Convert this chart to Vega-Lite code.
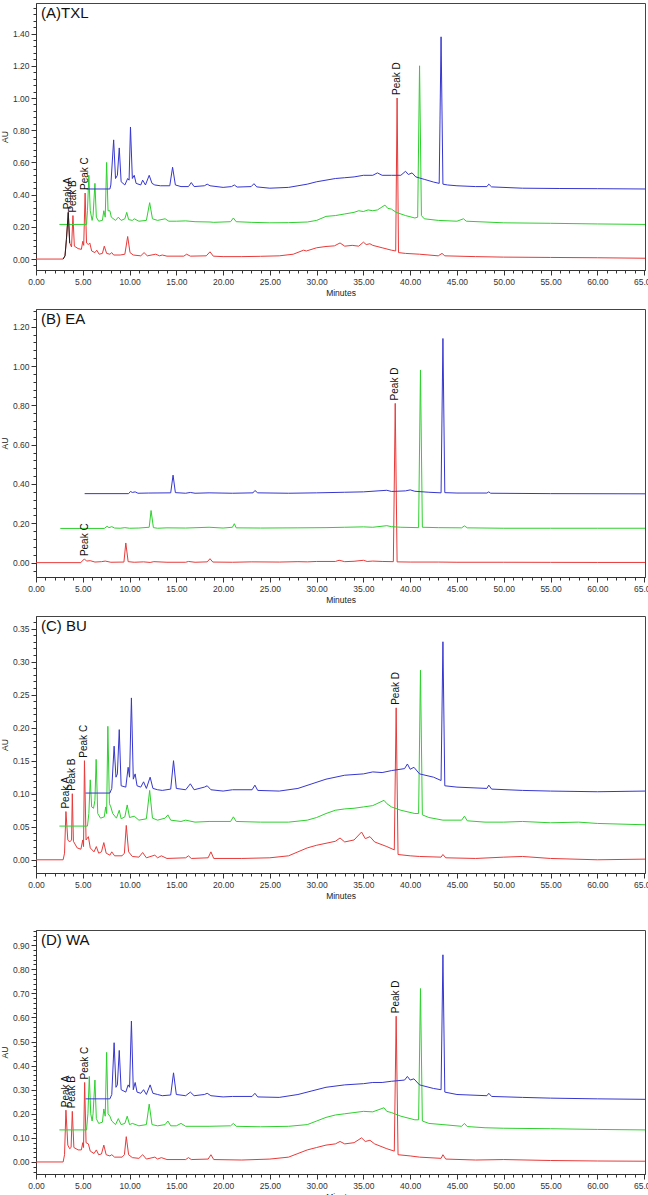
{
"$schema":"https://vega.github.io/schema/vega-lite/v6.json",
"background":"white",
"padding":{"left":0,"top":2,"right":0,"bottom":0},
"config":{"font":"Liberation Sans","view":{"stroke":"#444","strokeWidth":1},
"axis":{"labelFont":"Liberation Sans","labelFontSize":8.5,"labelColor":"#333","titleFont":"Liberation Sans","titleFontSize":8.5,"titleFontWeight":"normal","titleColor":"#222","domainColor":"#333","tickColor":"#333","grid":false,"labelOverlap":false,"labelFlush":false,"labelBound":false,"labelPadding":2},
"text":{"font":"Liberation Sans"}},
"datasets":{
"titles":[{"p":"A","t":0,"v":1.59,"label":"(A)TXL"},{"p":"B","t":0,"v":1.29,"label":"(B) EA"},{"p":"C","t":0,"v":0.369,"label":"(C) BU"},{"p":"D","t":0,"v":0.963,"label":"(D) WA"}],
"A":[
{"s":"r","t":0,"v":0},{"s":"r","t":2.9,"v":0},{"s":"r","t":3.1,"v":0.02},{"s":"r","t":3.25,"v":0.12},{"s":"r","t":3.45,"v":0.29},{"s":"r","t":3.6,"v":0.1},{"s":"r","t":3.8,"v":0.075},{"s":"r","t":3.95,"v":0.27},{"s":"r","t":4.1,"v":0.08},{"s":"r","t":4.5,"v":0.065},{"s":"r","t":4.85,"v":0.06},{"s":"r","t":5.0,"v":0.11},{"s":"r","t":5.1,"v":0.085},{"s":"r","t":5.25,"v":0.41},{"s":"r","t":5.4,"v":0.1},{"s":"r","t":5.6,"v":0.09},{"s":"r","t":5.75,"v":0.1},{"s":"r","t":5.95,"v":0.05},{"s":"r","t":6.3,"v":0.04},{"s":"r","t":6.5,"v":0.055},{"s":"r","t":6.75,"v":0.03},{"s":"r","t":7.1,"v":0.035},{"s":"r","t":7.3,"v":0.08},{"s":"r","t":7.55,"v":0.035},{"s":"r","t":7.9,"v":0.03},{"s":"r","t":8.1,"v":0.04},{"s":"r","t":8.3,"v":0.025},{"s":"r","t":9.0,"v":0.025},{"s":"r","t":9.5,"v":0.03},{"s":"r","t":9.8,"v":0.14},{"s":"r","t":10.05,"v":0.04},{"s":"r","t":10.4,"v":0.025},{"s":"r","t":11.2,"v":0.02},{"s":"r","t":11.55,"v":0.04},{"s":"r","t":11.9,"v":0.02},{"s":"r","t":12.8,"v":0.03},{"s":"r","t":13.2,"v":0.02},{"s":"r","t":13.5,"v":0.025},{"s":"r","t":14,"v":0.018},{"s":"r","t":15.8,"v":0.018},{"s":"r","t":16.1,"v":0.03},{"s":"r","t":16.5,"v":0.018},{"s":"r","t":18.2,"v":0.02},{"s":"r","t":18.6,"v":0.045},{"s":"r","t":18.95,"v":0.018},{"s":"r","t":20,"v":0.015},{"s":"r","t":22,"v":0.015},{"s":"r","t":24,"v":0.017},{"s":"r","t":26,"v":0.02},{"s":"r","t":27.5,"v":0.03},{"s":"r","t":28.6,"v":0.055},{"s":"r","t":28.9,"v":0.05},{"s":"r","t":30,"v":0.07},{"s":"r","t":31,"v":0.078},{"s":"r","t":31.9,"v":0.082},{"s":"r","t":32.5,"v":0.1},{"s":"r","t":33,"v":0.08},{"s":"r","t":33.8,"v":0.085},{"s":"r","t":34.5,"v":0.08},{"s":"r","t":35,"v":0.105},{"s":"r","t":35.3,"v":0.09},{"s":"r","t":35.7,"v":0.095},{"s":"r","t":36,"v":0.085},{"s":"r","t":37,"v":0.07},{"s":"r","t":38,"v":0.055},{"s":"r","t":38.45,"v":0.05},{"s":"r","t":38.6,"v":1.0},{"s":"r","t":38.75,"v":0.04},{"s":"r","t":39.5,"v":0.035},{"s":"r","t":41,"v":0.03},{"s":"r","t":43,"v":0.02},{"s":"r","t":43.4,"v":0.035},{"s":"r","t":43.7,"v":0.02},{"s":"r","t":47,"v":0.015},{"s":"r","t":50,"v":0.012},{"s":"r","t":55,"v":0.01},{"s":"r","t":60,"v":0.008},{"s":"r","t":65.1,"v":0.005},
{"s":"k","t":2.9,"v":0},{"s":"k","t":3.1,"v":0.02},{"s":"k","t":3.25,"v":0.12},{"s":"k","t":3.45,"v":0.29},{"s":"k","t":3.6,"v":0.1},
{"s":"g","t":2.5,"v":0.215},{"s":"g","t":5.4,"v":0.215},{"s":"g","t":5.5,"v":0.3},{"s":"g","t":5.65,"v":0.52},{"s":"g","t":5.8,"v":0.3},{"s":"g","t":6.0,"v":0.24},{"s":"g","t":6.1,"v":0.27},{"s":"g","t":6.3,"v":0.47},{"s":"g","t":6.45,"v":0.26},{"s":"g","t":6.7,"v":0.235},{"s":"g","t":7.1,"v":0.24},{"s":"g","t":7.25,"v":0.3},{"s":"g","t":7.4,"v":0.26},{"s":"g","t":7.55,"v":0.6},{"s":"g","t":7.7,"v":0.3},{"s":"g","t":7.9,"v":0.3},{"s":"g","t":8.05,"v":0.26},{"s":"g","t":8.5,"v":0.24},{"s":"g","t":8.8,"v":0.26},{"s":"g","t":9.1,"v":0.24},{"s":"g","t":9.5,"v":0.25},{"s":"g","t":9.7,"v":0.29},{"s":"g","t":9.9,"v":0.245},{"s":"g","t":10.3,"v":0.24},{"s":"g","t":10.5,"v":0.25},{"s":"g","t":11,"v":0.235},{"s":"g","t":11.8,"v":0.24},{"s":"g","t":12.15,"v":0.35},{"s":"g","t":12.45,"v":0.25},{"s":"g","t":13,"v":0.24},{"s":"g","t":13.8,"v":0.25},{"s":"g","t":14.2,"v":0.235},{"s":"g","t":15,"v":0.235},{"s":"g","t":16,"v":0.237},{"s":"g","t":17,"v":0.232},{"s":"g","t":18.6,"v":0.23},{"s":"g","t":19,"v":0.228},{"s":"g","t":20.8,"v":0.232},{"s":"g","t":21.1,"v":0.255},{"s":"g","t":21.4,"v":0.232},{"s":"g","t":23,"v":0.228},{"s":"g","t":25,"v":0.225},{"s":"g","t":27,"v":0.226},{"s":"g","t":29,"v":0.23},{"s":"g","t":30,"v":0.24},{"s":"g","t":31,"v":0.265},{"s":"g","t":32,"v":0.27},{"s":"g","t":33,"v":0.28},{"s":"g","t":34,"v":0.29},{"s":"g","t":34.5,"v":0.3},{"s":"g","t":35,"v":0.295},{"s":"g","t":35.5,"v":0.305},{"s":"g","t":36,"v":0.3},{"s":"g","t":36.5,"v":0.305},{"s":"g","t":37.3,"v":0.335},{"s":"g","t":37.6,"v":0.315},{"s":"g","t":38,"v":0.31},{"s":"g","t":38.5,"v":0.29},{"s":"g","t":39.5,"v":0.27},{"s":"g","t":40.5,"v":0.255},{"s":"g","t":40.8,"v":0.26},{"s":"g","t":41.0,"v":1.2},{"s":"g","t":41.2,"v":0.27},{"s":"g","t":41.5,"v":0.25},{"s":"g","t":43,"v":0.24},{"s":"g","t":45,"v":0.235},{"s":"g","t":45.7,"v":0.25},{"s":"g","t":46,"v":0.235},{"s":"g","t":48,"v":0.23},{"s":"g","t":50,"v":0.225},{"s":"g","t":55,"v":0.222},{"s":"g","t":60,"v":0.218},{"s":"g","t":65.1,"v":0.215},
{"s":"b","t":5.4,"v":0.435},{"s":"b","t":7.9,"v":0.435},{"s":"b","t":8.0,"v":0.46},{"s":"b","t":8.3,"v":0.74},{"s":"b","t":8.5,"v":0.5},{"s":"b","t":8.7,"v":0.52},{"s":"b","t":8.9,"v":0.69},{"s":"b","t":9.1,"v":0.48},{"s":"b","t":9.5,"v":0.46},{"s":"b","t":9.8,"v":0.5},{"s":"b","t":9.95,"v":0.49},{"s":"b","t":10.1,"v":0.82},{"s":"b","t":10.3,"v":0.5},{"s":"b","t":10.5,"v":0.52},{"s":"b","t":10.7,"v":0.47},{"s":"b","t":11.2,"v":0.46},{"s":"b","t":11.4,"v":0.49},{"s":"b","t":11.7,"v":0.46},{"s":"b","t":12.1,"v":0.52},{"s":"b","t":12.4,"v":0.47},{"s":"b","t":12.7,"v":0.46},{"s":"b","t":13.3,"v":0.455},{"s":"b","t":14.3,"v":0.455},{"s":"b","t":14.6,"v":0.57},{"s":"b","t":14.9,"v":0.46},{"s":"b","t":15.5,"v":0.45},{"s":"b","t":16.3,"v":0.45},{"s":"b","t":16.6,"v":0.475},{"s":"b","t":16.9,"v":0.45},{"s":"b","t":18,"v":0.455},{"s":"b","t":18.3,"v":0.465},{"s":"b","t":18.6,"v":0.455},{"s":"b","t":20,"v":0.445},{"s":"b","t":20.9,"v":0.45},{"s":"b","t":21.2,"v":0.46},{"s":"b","t":21.5,"v":0.447},{"s":"b","t":23,"v":0.45},{"s":"b","t":23.3,"v":0.468},{"s":"b","t":23.6,"v":0.448},{"s":"b","t":25,"v":0.44},{"s":"b","t":27,"v":0.445},{"s":"b","t":28,"v":0.455},{"s":"b","t":29,"v":0.465},{"s":"b","t":30,"v":0.48},{"s":"b","t":31,"v":0.49},{"s":"b","t":32,"v":0.5},{"s":"b","t":33,"v":0.505},{"s":"b","t":34,"v":0.51},{"s":"b","t":35,"v":0.52},{"s":"b","t":36,"v":0.52},{"s":"b","t":36.5,"v":0.535},{"s":"b","t":37,"v":0.52},{"s":"b","t":38,"v":0.52},{"s":"b","t":39,"v":0.52},{"s":"b","t":39.5,"v":0.545},{"s":"b","t":39.8,"v":0.525},{"s":"b","t":40.2,"v":0.535},{"s":"b","t":40.6,"v":0.51},{"s":"b","t":41.5,"v":0.495},{"s":"b","t":42.5,"v":0.478},{"s":"b","t":43.1,"v":0.47},{"s":"b","t":43.3,"v":1.38},{"s":"b","t":43.5,"v":0.465},{"s":"b","t":44,"v":0.46},{"s":"b","t":45,"v":0.455},{"s":"b","t":47,"v":0.45},{"s":"b","t":48.2,"v":0.45},{"s":"b","t":48.4,"v":0.465},{"s":"b","t":48.7,"v":0.448},{"s":"b","t":52,"v":0.44},{"s":"b","t":56,"v":0.438},{"s":"b","t":60,"v":0.437},{"s":"b","t":65.1,"v":0.435}
],
"B":[
{"s":"r","t":0,"v":0},{"s":"r","t":4.8,"v":0},{"s":"r","t":5.0,"v":0.012},{"s":"r","t":5.2,"v":0.018},{"s":"r","t":5.4,"v":0.008},{"s":"r","t":5.8,"v":0.01},{"s":"r","t":6.3,"v":0.003},{"s":"r","t":7,"v":0.005},{"s":"r","t":7.4,"v":0.008},{"s":"r","t":8,"v":0.002},{"s":"r","t":9.4,"v":0.003},{"s":"r","t":9.6,"v":0.1},{"s":"r","t":9.85,"v":0.005},{"s":"r","t":10.5,"v":0.002},{"s":"r","t":11.5,"v":0.004},{"s":"r","t":12.2,"v":0.001},{"s":"r","t":12.6,"v":0.005},{"s":"r","t":14,"v":0.002},{"s":"r","t":16,"v":0.002},{"s":"r","t":16.3,"v":0.006},{"s":"r","t":17,"v":0.002},{"s":"r","t":18.3,"v":0.004},{"s":"r","t":18.6,"v":0.02},{"s":"r","t":18.9,"v":0.003},{"s":"r","t":21,"v":0.002},{"s":"r","t":23,"v":0.004},{"s":"r","t":26,"v":0.003},{"s":"r","t":28,"v":0.005},{"s":"r","t":29,"v":0.004},{"s":"r","t":30,"v":0.006},{"s":"r","t":32,"v":0.006},{"s":"r","t":32.4,"v":0.012},{"s":"r","t":33,"v":0.005},{"s":"r","t":34,"v":0.007},{"s":"r","t":35,"v":0.012},{"s":"r","t":35.4,"v":0.006},{"s":"r","t":36,"v":0.008},{"s":"r","t":37,"v":0.006},{"s":"r","t":38.2,"v":0.005},{"s":"r","t":38.4,"v":0.81},{"s":"r","t":38.6,"v":0.004},{"s":"r","t":40,"v":0.003},{"s":"r","t":43,"v":0.003},{"s":"r","t":45,"v":0.002},{"s":"r","t":50,"v":0.002},{"s":"r","t":55,"v":0.0015},{"s":"r","t":60,"v":0.001},{"s":"r","t":65.1,"v":0.001},
{"s":"g","t":2.6,"v":0.174},{"s":"g","t":7.3,"v":0.174},{"s":"g","t":7.6,"v":0.185},{"s":"g","t":7.8,"v":0.178},{"s":"g","t":8.1,"v":0.183},{"s":"g","t":8.4,"v":0.176},{"s":"g","t":9,"v":0.175},{"s":"g","t":9.5,"v":0.178},{"s":"g","t":10,"v":0.175},{"s":"g","t":11,"v":0.176},{"s":"g","t":12.1,"v":0.18},{"s":"g","t":12.3,"v":0.265},{"s":"g","t":12.55,"v":0.178},{"s":"g","t":13,"v":0.175},{"s":"g","t":14,"v":0.177},{"s":"g","t":16,"v":0.176},{"s":"g","t":18.5,"v":0.18},{"s":"g","t":20,"v":0.176},{"s":"g","t":21,"v":0.18},{"s":"g","t":21.2,"v":0.198},{"s":"g","t":21.4,"v":0.177},{"s":"g","t":24,"v":0.176},{"s":"g","t":28,"v":0.177},{"s":"g","t":31,"v":0.178},{"s":"g","t":33,"v":0.18},{"s":"g","t":35,"v":0.182},{"s":"g","t":36,"v":0.18},{"s":"g","t":37.5,"v":0.188},{"s":"g","t":38,"v":0.183},{"s":"g","t":39,"v":0.18},{"s":"g","t":40.9,"v":0.178},{"s":"g","t":41.1,"v":0.98},{"s":"g","t":41.3,"v":0.18},{"s":"g","t":43,"v":0.178},{"s":"g","t":45.5,"v":0.177},{"s":"g","t":45.8,"v":0.187},{"s":"g","t":46.1,"v":0.177},{"s":"g","t":50,"v":0.175},{"s":"g","t":55,"v":0.175},{"s":"g","t":60,"v":0.175},{"s":"g","t":65.1,"v":0.175},
{"s":"b","t":5.2,"v":0.351},{"s":"b","t":9.9,"v":0.351},{"s":"b","t":10.1,"v":0.362},{"s":"b","t":10.3,"v":0.357},{"s":"b","t":10.6,"v":0.36},{"s":"b","t":10.9,"v":0.353},{"s":"b","t":12,"v":0.354},{"s":"b","t":14.4,"v":0.355},{"s":"b","t":14.65,"v":0.445},{"s":"b","t":14.9,"v":0.356},{"s":"b","t":16,"v":0.353},{"s":"b","t":16.5,"v":0.357},{"s":"b","t":17,"v":0.353},{"s":"b","t":18.5,"v":0.355},{"s":"b","t":21,"v":0.353},{"s":"b","t":23.2,"v":0.355},{"s":"b","t":23.4,"v":0.367},{"s":"b","t":23.7,"v":0.355},{"s":"b","t":27,"v":0.353},{"s":"b","t":30,"v":0.355},{"s":"b","t":33,"v":0.358},{"s":"b","t":35,"v":0.36},{"s":"b","t":37.5,"v":0.368},{"s":"b","t":38,"v":0.362},{"s":"b","t":39.5,"v":0.365},{"s":"b","t":40,"v":0.37},{"s":"b","t":40.5,"v":0.363},{"s":"b","t":42,"v":0.358},{"s":"b","t":43.3,"v":0.355},{"s":"b","t":43.5,"v":1.14},{"s":"b","t":43.7,"v":0.356},{"s":"b","t":45,"v":0.354},{"s":"b","t":48.2,"v":0.354},{"s":"b","t":48.4,"v":0.36},{"s":"b","t":48.6,"v":0.353},{"s":"b","t":55,"v":0.351},{"s":"b","t":65.1,"v":0.35}
],
"C":[
{"s":"r","t":0,"v":0},{"s":"r","t":2.9,"v":0},{"s":"r","t":3.05,"v":0.01},{"s":"r","t":3.2,"v":0.073},{"s":"r","t":3.4,"v":0.03},{"s":"r","t":3.6,"v":0.027},{"s":"r","t":3.8,"v":0.03},{"s":"r","t":3.88,"v":0.1},{"s":"r","t":4.0,"v":0.028},{"s":"r","t":4.4,"v":0.018},{"s":"r","t":4.8,"v":0.016},{"s":"r","t":5.0,"v":0.03},{"s":"r","t":5.08,"v":0.02},{"s":"r","t":5.18,"v":0.15},{"s":"r","t":5.35,"v":0.03},{"s":"r","t":5.6,"v":0.035},{"s":"r","t":5.8,"v":0.018},{"s":"r","t":6.2,"v":0.012},{"s":"r","t":6.45,"v":0.02},{"s":"r","t":6.7,"v":0.01},{"s":"r","t":7.0,"v":0.012},{"s":"r","t":7.25,"v":0.026},{"s":"r","t":7.5,"v":0.01},{"s":"r","t":7.9,"v":0.007},{"s":"r","t":8.1,"v":0.012},{"s":"r","t":8.4,"v":0.006},{"s":"r","t":9.2,"v":0.006},{"s":"r","t":9.45,"v":0.01},{"s":"r","t":9.65,"v":0.052},{"s":"r","t":9.9,"v":0.012},{"s":"r","t":10.3,"v":0.005},{"s":"r","t":11.0,"v":0.004},{"s":"r","t":11.4,"v":0.011},{"s":"r","t":11.8,"v":0.003},{"s":"r","t":12.7,"v":0.007},{"s":"r","t":13.0,"v":0.003},{"s":"r","t":13.4,"v":0.006},{"s":"r","t":14,"v":0.002},{"s":"r","t":16,"v":0.003},{"s":"r","t":16.3,"v":0.006},{"s":"r","t":16.6,"v":0.002},{"s":"r","t":18.4,"v":0.003},{"s":"r","t":18.7,"v":0.012},{"s":"r","t":19,"v":0.002},{"s":"r","t":22,"v":0.002},{"s":"r","t":25,"v":0.003},{"s":"r","t":27,"v":0.006},{"s":"r","t":28,"v":0.012},{"s":"r","t":29,"v":0.018},{"s":"r","t":30,"v":0.022},{"s":"r","t":31,"v":0.025},{"s":"r","t":32,"v":0.028},{"s":"r","t":32.5,"v":0.033},{"s":"r","t":33,"v":0.027},{"s":"r","t":34,"v":0.03},{"s":"r","t":34.8,"v":0.042},{"s":"r","t":35.2,"v":0.032},{"s":"r","t":35.7,"v":0.035},{"s":"r","t":36.2,"v":0.027},{"s":"r","t":37.5,"v":0.02},{"s":"r","t":38.3,"v":0.015},{"s":"r","t":38.5,"v":0.23},{"s":"r","t":38.7,"v":0.008},{"s":"r","t":40,"v":0.006},{"s":"r","t":41,"v":0.005},{"s":"r","t":43.3,"v":0.004},{"s":"r","t":43.5,"v":0.008},{"s":"r","t":43.8,"v":0.003},{"s":"r","t":47,"v":0.002},{"s":"r","t":50,"v":0.004},{"s":"r","t":52,"v":0.005},{"s":"r","t":55,"v":0.002},{"s":"r","t":60,"v":0.0},{"s":"r","t":65.1,"v":0.001},
{"s":"g","t":2.5,"v":0.051},{"s":"g","t":5.5,"v":0.051},{"s":"g","t":5.65,"v":0.07},{"s":"g","t":5.8,"v":0.121},{"s":"g","t":5.95,"v":0.08},{"s":"g","t":6.15,"v":0.078},{"s":"g","t":6.3,"v":0.09},{"s":"g","t":6.43,"v":0.152},{"s":"g","t":6.6,"v":0.07},{"s":"g","t":6.9,"v":0.063},{"s":"g","t":7.3,"v":0.065},{"s":"g","t":7.45,"v":0.08},{"s":"g","t":7.55,"v":0.07},{"s":"g","t":7.68,"v":0.202},{"s":"g","t":7.85,"v":0.085},{"s":"g","t":8.0,"v":0.08},{"s":"g","t":8.2,"v":0.07},{"s":"g","t":8.6,"v":0.063},{"s":"g","t":8.9,"v":0.075},{"s":"g","t":9.1,"v":0.062},{"s":"g","t":9.5,"v":0.065},{"s":"g","t":9.75,"v":0.083},{"s":"g","t":10.0,"v":0.064},{"s":"g","t":10.5,"v":0.066},{"s":"g","t":11,"v":0.06},{"s":"g","t":11.8,"v":0.062},{"s":"g","t":12.15,"v":0.105},{"s":"g","t":12.45,"v":0.063},{"s":"g","t":13,"v":0.06},{"s":"g","t":13.8,"v":0.063},{"s":"g","t":14.1,"v":0.068},{"s":"g","t":14.4,"v":0.06},{"s":"g","t":15.5,"v":0.058},{"s":"g","t":16,"v":0.06},{"s":"g","t":17,"v":0.057},{"s":"g","t":18.5,"v":0.058},{"s":"g","t":20.8,"v":0.058},{"s":"g","t":21.1,"v":0.065},{"s":"g","t":21.4,"v":0.058},{"s":"g","t":24,"v":0.057},{"s":"g","t":27,"v":0.057},{"s":"g","t":29,"v":0.06},{"s":"g","t":30,"v":0.064},{"s":"g","t":31,"v":0.07},{"s":"g","t":32,"v":0.075},{"s":"g","t":33,"v":0.077},{"s":"g","t":34,"v":0.078},{"s":"g","t":35,"v":0.08},{"s":"g","t":36,"v":0.082},{"s":"g","t":37.2,"v":0.09},{"s":"g","t":37.5,"v":0.085},{"s":"g","t":38,"v":0.08},{"s":"g","t":39,"v":0.075},{"s":"g","t":40.5,"v":0.07},{"s":"g","t":40.9,"v":0.07},{"s":"g","t":41.1,"v":0.287},{"s":"g","t":41.3,"v":0.068},{"s":"g","t":42,"v":0.064},{"s":"g","t":43.5,"v":0.06},{"s":"g","t":45.5,"v":0.06},{"s":"g","t":45.8,"v":0.066},{"s":"g","t":46.1,"v":0.059},{"s":"g","t":48,"v":0.057},{"s":"g","t":50,"v":0.057},{"s":"g","t":52,"v":0.058},{"s":"g","t":55,"v":0.056},{"s":"g","t":58,"v":0.057},{"s":"g","t":60,"v":0.055},{"s":"g","t":65.1,"v":0.053},
{"s":"b","t":5.3,"v":0.101},{"s":"b","t":7.9,"v":0.101},{"s":"b","t":8.1,"v":0.108},{"s":"b","t":8.35,"v":0.172},{"s":"b","t":8.55,"v":0.125},{"s":"b","t":8.7,"v":0.13},{"s":"b","t":8.9,"v":0.197},{"s":"b","t":9.1,"v":0.112},{"s":"b","t":9.6,"v":0.11},{"s":"b","t":9.85,"v":0.14},{"s":"b","t":10.0,"v":0.125},{"s":"b","t":10.2,"v":0.245},{"s":"b","t":10.4,"v":0.122},{"s":"b","t":10.6,"v":0.13},{"s":"b","t":10.8,"v":0.112},{"s":"b","t":11.2,"v":0.11},{"s":"b","t":11.5,"v":0.118},{"s":"b","t":11.8,"v":0.108},{"s":"b","t":12.2,"v":0.125},{"s":"b","t":12.5,"v":0.108},{"s":"b","t":13,"v":0.106},{"s":"b","t":13.5,"v":0.105},{"s":"b","t":14.4,"v":0.107},{"s":"b","t":14.7,"v":0.15},{"s":"b","t":15.0,"v":0.108},{"s":"b","t":16,"v":0.106},{"s":"b","t":16.5,"v":0.115},{"s":"b","t":16.9,"v":0.106},{"s":"b","t":18,"v":0.11},{"s":"b","t":18.3,"v":0.112},{"s":"b","t":18.7,"v":0.106},{"s":"b","t":20,"v":0.104},{"s":"b","t":21,"v":0.106},{"s":"b","t":23.1,"v":0.106},{"s":"b","t":23.4,"v":0.113},{"s":"b","t":23.7,"v":0.105},{"s":"b","t":26,"v":0.104},{"s":"b","t":28,"v":0.108},{"s":"b","t":29.5,"v":0.115},{"s":"b","t":31,"v":0.122},{"s":"b","t":33,"v":0.128},{"s":"b","t":35,"v":0.13},{"s":"b","t":36,"v":0.133},{"s":"b","t":37,"v":0.132},{"s":"b","t":38,"v":0.135},{"s":"b","t":39.4,"v":0.138},{"s":"b","t":39.7,"v":0.145},{"s":"b","t":40,"v":0.137},{"s":"b","t":40.4,"v":0.14},{"s":"b","t":41,"v":0.13},{"s":"b","t":42.5,"v":0.125},{"s":"b","t":43.3,"v":0.12},{"s":"b","t":43.5,"v":0.33},{"s":"b","t":43.7,"v":0.112},{"s":"b","t":45,"v":0.11},{"s":"b","t":48.2,"v":0.108},{"s":"b","t":48.4,"v":0.113},{"s":"b","t":48.7,"v":0.107},{"s":"b","t":52,"v":0.105},{"s":"b","t":55,"v":0.104},{"s":"b","t":60,"v":0.103},{"s":"b","t":65.1,"v":0.104}
],
"D":[
{"s":"r","t":0,"v":0},{"s":"r","t":2.9,"v":0},{"s":"r","t":3.05,"v":0.03},{"s":"r","t":3.2,"v":0.215},{"s":"r","t":3.4,"v":0.07},{"s":"r","t":3.6,"v":0.055},{"s":"r","t":3.75,"v":0.06},{"s":"r","t":3.88,"v":0.21},{"s":"r","t":4.05,"v":0.06},{"s":"r","t":4.5,"v":0.05},{"s":"r","t":4.85,"v":0.05},{"s":"r","t":5.0,"v":0.08},{"s":"r","t":5.08,"v":0.06},{"s":"r","t":5.2,"v":0.33},{"s":"r","t":5.35,"v":0.08},{"s":"r","t":5.6,"v":0.075},{"s":"r","t":5.8,"v":0.045},{"s":"r","t":6.2,"v":0.035},{"s":"r","t":6.45,"v":0.05},{"s":"r","t":6.7,"v":0.03},{"s":"r","t":7.0,"v":0.033},{"s":"r","t":7.25,"v":0.07},{"s":"r","t":7.5,"v":0.03},{"s":"r","t":7.9,"v":0.025},{"s":"r","t":8.1,"v":0.03},{"s":"r","t":8.4,"v":0.02},{"s":"r","t":9.2,"v":0.02},{"s":"r","t":9.45,"v":0.03},{"s":"r","t":9.65,"v":0.105},{"s":"r","t":9.9,"v":0.03},{"s":"r","t":10.3,"v":0.018},{"s":"r","t":11,"v":0.015},{"s":"r","t":11.4,"v":0.03},{"s":"r","t":11.8,"v":0.012},{"s":"r","t":12.7,"v":0.02},{"s":"r","t":13,"v":0.012},{"s":"r","t":13.4,"v":0.018},{"s":"r","t":14,"v":0.01},{"s":"r","t":16,"v":0.01},{"s":"r","t":16.3,"v":0.018},{"s":"r","t":16.6,"v":0.01},{"s":"r","t":18.4,"v":0.012},{"s":"r","t":18.7,"v":0.03},{"s":"r","t":19,"v":0.01},{"s":"r","t":22,"v":0.008},{"s":"r","t":25,"v":0.012},{"s":"r","t":27,"v":0.02},{"s":"r","t":28,"v":0.035},{"s":"r","t":29,"v":0.05},{"s":"r","t":30,"v":0.06},{"s":"r","t":31,"v":0.07},{"s":"r","t":32,"v":0.075},{"s":"r","t":32.5,"v":0.085},{"s":"r","t":33,"v":0.075},{"s":"r","t":34,"v":0.08},{"s":"r","t":34.8,"v":0.1},{"s":"r","t":35.2,"v":0.085},{"s":"r","t":35.7,"v":0.09},{"s":"r","t":36.2,"v":0.075},{"s":"r","t":37.5,"v":0.055},{"s":"r","t":38.3,"v":0.045},{"s":"r","t":38.5,"v":0.605},{"s":"r","t":38.7,"v":0.03},{"s":"r","t":40,"v":0.025},{"s":"r","t":41,"v":0.02},{"s":"r","t":43.3,"v":0.015},{"s":"r","t":43.5,"v":0.03},{"s":"r","t":43.8,"v":0.012},{"s":"r","t":47,"v":0.008},{"s":"r","t":50,"v":0.01},{"s":"r","t":55,"v":0.006},{"s":"r","t":60,"v":0.004},{"s":"r","t":65.1,"v":0.003},
{"s":"g","t":2.5,"v":0.133},{"s":"g","t":5.4,"v":0.133},{"s":"g","t":5.55,"v":0.2},{"s":"g","t":5.7,"v":0.355},{"s":"g","t":5.85,"v":0.2},{"s":"g","t":6.0,"v":0.17},{"s":"g","t":6.1,"v":0.2},{"s":"g","t":6.3,"v":0.34},{"s":"g","t":6.45,"v":0.18},{"s":"g","t":6.7,"v":0.16},{"s":"g","t":7.1,"v":0.165},{"s":"g","t":7.25,"v":0.22},{"s":"g","t":7.4,"v":0.19},{"s":"g","t":7.55,"v":0.455},{"s":"g","t":7.7,"v":0.2},{"s":"g","t":7.9,"v":0.19},{"s":"g","t":8.1,"v":0.17},{"s":"g","t":8.5,"v":0.155},{"s":"g","t":8.8,"v":0.18},{"s":"g","t":9.1,"v":0.155},{"s":"g","t":9.5,"v":0.16},{"s":"g","t":9.75,"v":0.19},{"s":"g","t":10,"v":0.155},{"s":"g","t":10.3,"v":0.16},{"s":"g","t":11,"v":0.15},{"s":"g","t":11.8,"v":0.155},{"s":"g","t":12.1,"v":0.24},{"s":"g","t":12.4,"v":0.155},{"s":"g","t":13,"v":0.15},{"s":"g","t":13.8,"v":0.155},{"s":"g","t":14.1,"v":0.17},{"s":"g","t":14.4,"v":0.15},{"s":"g","t":15,"v":0.15},{"s":"g","t":15.5,"v":0.16},{"s":"g","t":16,"v":0.148},{"s":"g","t":18.5,"v":0.148},{"s":"g","t":20.8,"v":0.15},{"s":"g","t":21.1,"v":0.16},{"s":"g","t":21.4,"v":0.148},{"s":"g","t":24,"v":0.146},{"s":"g","t":27,"v":0.148},{"s":"g","t":29,"v":0.155},{"s":"g","t":30,"v":0.17},{"s":"g","t":31,"v":0.185},{"s":"g","t":32,"v":0.195},{"s":"g","t":33,"v":0.2},{"s":"g","t":34,"v":0.205},{"s":"g","t":35,"v":0.21},{"s":"g","t":36,"v":0.208},{"s":"g","t":37.2,"v":0.225},{"s":"g","t":37.5,"v":0.21},{"s":"g","t":38,"v":0.205},{"s":"g","t":39,"v":0.19},{"s":"g","t":40.5,"v":0.175},{"s":"g","t":40.9,"v":0.175},{"s":"g","t":41.1,"v":0.72},{"s":"g","t":41.3,"v":0.17},{"s":"g","t":42,"v":0.16},{"s":"g","t":43.5,"v":0.155},{"s":"g","t":45.5,"v":0.148},{"s":"g","t":45.8,"v":0.16},{"s":"g","t":46.1,"v":0.147},{"s":"g","t":48,"v":0.142},{"s":"g","t":50,"v":0.14},{"s":"g","t":55,"v":0.138},{"s":"g","t":60,"v":0.135},{"s":"g","t":65.1,"v":0.133},
{"s":"b","t":5.3,"v":0.262},{"s":"b","t":7.9,"v":0.262},{"s":"b","t":8.1,"v":0.28},{"s":"b","t":8.35,"v":0.495},{"s":"b","t":8.55,"v":0.31},{"s":"b","t":8.7,"v":0.32},{"s":"b","t":8.9,"v":0.463},{"s":"b","t":9.1,"v":0.3},{"s":"b","t":9.6,"v":0.29},{"s":"b","t":9.85,"v":0.32},{"s":"b","t":10.0,"v":0.31},{"s":"b","t":10.2,"v":0.585},{"s":"b","t":10.4,"v":0.3},{"s":"b","t":10.6,"v":0.33},{"s":"b","t":10.8,"v":0.29},{"s":"b","t":11.2,"v":0.285},{"s":"b","t":11.5,"v":0.3},{"s":"b","t":11.8,"v":0.28},{"s":"b","t":12.2,"v":0.32},{"s":"b","t":12.5,"v":0.285},{"s":"b","t":13,"v":0.28},{"s":"b","t":13.5,"v":0.275},{"s":"b","t":14.4,"v":0.278},{"s":"b","t":14.7,"v":0.37},{"s":"b","t":15.0,"v":0.28},{"s":"b","t":16,"v":0.275},{"s":"b","t":16.5,"v":0.29},{"s":"b","t":16.9,"v":0.275},{"s":"b","t":18,"v":0.28},{"s":"b","t":18.3,"v":0.285},{"s":"b","t":18.7,"v":0.275},{"s":"b","t":20,"v":0.27},{"s":"b","t":21,"v":0.272},{"s":"b","t":23.1,"v":0.272},{"s":"b","t":23.4,"v":0.285},{"s":"b","t":23.7,"v":0.27},{"s":"b","t":26,"v":0.268},{"s":"b","t":28,"v":0.28},{"s":"b","t":29.5,"v":0.295},{"s":"b","t":31,"v":0.31},{"s":"b","t":33,"v":0.32},{"s":"b","t":35,"v":0.325},{"s":"b","t":36,"v":0.33},{"s":"b","t":37,"v":0.33},{"s":"b","t":38,"v":0.335},{"s":"b","t":39.4,"v":0.34},{"s":"b","t":39.7,"v":0.355},{"s":"b","t":40,"v":0.34},{"s":"b","t":40.4,"v":0.345},{"s":"b","t":41,"v":0.32},{"s":"b","t":42.5,"v":0.305},{"s":"b","t":43.3,"v":0.3},{"s":"b","t":43.5,"v":0.86},{"s":"b","t":43.7,"v":0.29},{"s":"b","t":45,"v":0.28},{"s":"b","t":48.2,"v":0.275},{"s":"b","t":48.4,"v":0.285},{"s":"b","t":48.7,"v":0.272},{"s":"b","t":52,"v":0.268},{"s":"b","t":55,"v":0.265},{"s":"b","t":60,"v":0.262},{"s":"b","t":65.1,"v":0.26}
],
"peaks":[
{"p":"A","t":3.45,"v":0.29,"label":"Peak A"},{"p":"A","t":3.95,"v":0.27,"label":"Peak B"},{"p":"A","t":5.25,"v":0.41,"label":"Peak C"},{"p":"A","t":38.6,"v":1.0,"label":"Peak D"},
{"p":"B","t":5.2,"v":0.018,"label":"Peak C"},{"p":"B","t":38.4,"v":0.81,"label":"Peak D"},
{"p":"C","t":3.2,"v":0.073,"label":"Peak A"},{"p":"C","t":3.88,"v":0.1,"label":"Peak B"},{"p":"C","t":5.18,"v":0.15,"label":"Peak C"},{"p":"C","t":38.5,"v":0.23,"label":"Peak D"},
{"p":"D","t":3.2,"v":0.215,"label":"Peak A"},{"p":"D","t":3.88,"v":0.21,"label":"Peak B"},{"p":"D","t":5.2,"v":0.33,"label":"Peak C"},{"p":"D","t":38.5,"v":0.605,"label":"Peak D"}
]
},
"spacing":10,
"vconcat":[
{"spacing":8,"vconcat":[
{"width":609,"height":267,
"encoding":{
"x":{"field":"t","type":"quantitative","scale":{"domain":[0,65.1],"nice":false,"zero":false},"axis":{"title":"Minutes","titlePadding":3,"values":[0,1,2,3,4,5,6,7,8,9,10,11,12,13,14,15,16,17,18,19,20,21,22,23,24,25,26,27,28,29,30,31,32,33,34,35,36,37,38,39,40,41,42,43,44,45,46,47,48,49,50,51,52,53,54,55,56,57,58,59,60,61,62,63,64,65],"labelExpr":"datum.value % 5 === 0 ? format(datum.value, '.2f') : ''","tickSize":{"condition":{"test":"datum.value % 5 === 0","value":5},"value":3}}},
"y":{"field":"v","type":"quantitative","scale":{"domain":[-0.068,1.59],"nice":false,"zero":false},"axis":{"title":"AU","titlePadding":2.5,"values":[-0.04,0,0.04,0.08,0.12,0.16,0.2,0.24,0.28,0.32,0.36,0.4,0.44,0.48,0.52,0.56,0.6,0.64,0.68,0.72,0.76,0.8,0.84,0.88,0.92,0.96,1,1.04,1.08,1.12,1.16,1.2,1.24,1.28,1.32,1.36,1.4,1.44,1.48,1.52,1.56],"labelExpr":"abs(datum.value*5-round(datum.value*5))<0.001 ? format(datum.value,'.2f') : ''","tickSize":{"condition":{"test":"abs(datum.value*5-round(datum.value*5))<0.001","value":5},"value":3}}}},
"layer":[
{"data":{"name":"A"},"transform":[{"filter":"datum.s != 'k'"}],"mark":{"type":"line","strokeWidth":1,"clip":true},"encoding":{"color":{"field":"s","type":"nominal","scale":{"domain":["g","b","r"],"range":["#2ed02e","#3636d0","#e83a3a"]},"legend":null}}},
{"data":{"name":"A"},"transform":[{"filter":"datum.s == 'k'"}],"mark":{"type":"line","strokeWidth":1,"color":"#222"},"encoding":{}},
{"data":{"name":"peaks"},"transform":[{"filter":"datum.p == 'A'"}],"mark":{"type":"text","angle":270,"align":"left","baseline":"middle","dx":3,"fontSize":10,"color":"#111"},"encoding":{"text":{"field":"label"}}},
{"data":{"name":"titles"},"transform":[{"filter":"datum.p == 'A'"}],"mark":{"type":"text","align":"left","baseline":"top","dx":5,"dy":3,"fontSize":15,"color":"#111"},"encoding":{"text":{"field":"label"}}}
]},
{"width":609,"height":268,
"encoding":{
"x":{"field":"t","type":"quantitative","scale":{"domain":[0,65.1],"nice":false,"zero":false},"axis":{"title":"Minutes","titlePadding":3,"values":[0,1,2,3,4,5,6,7,8,9,10,11,12,13,14,15,16,17,18,19,20,21,22,23,24,25,26,27,28,29,30,31,32,33,34,35,36,37,38,39,40,41,42,43,44,45,46,47,48,49,50,51,52,53,54,55,56,57,58,59,60,61,62,63,64,65],"labelExpr":"datum.value % 5 === 0 ? format(datum.value, '.2f') : ''","tickSize":{"condition":{"test":"datum.value % 5 === 0","value":5},"value":3}}},
"y":{"field":"v","type":"quantitative","scale":{"domain":[-0.073,1.29],"nice":false,"zero":false},"axis":{"title":"AU","titlePadding":2.5,"values":[-0.04,0,0.04,0.08,0.12,0.16,0.2,0.24,0.28,0.32,0.36,0.4,0.44,0.48,0.52,0.56,0.6,0.64,0.68,0.72,0.76,0.8,0.84,0.88,0.92,0.96,1,1.04,1.08,1.12,1.16,1.2,1.24,1.28],"labelExpr":"abs(datum.value*5-round(datum.value*5))<0.001 ? format(datum.value,'.2f') : ''","tickSize":{"condition":{"test":"abs(datum.value*5-round(datum.value*5))<0.001","value":5},"value":3}}}},
"layer":[
{"data":{"name":"B"},"mark":{"type":"line","strokeWidth":1,"clip":true},"encoding":{"color":{"field":"s","type":"nominal","scale":{"domain":["g","b","r"],"range":["#2ed02e","#3636d0","#e83a3a"]},"legend":null}}},
{"data":{"name":"peaks"},"transform":[{"filter":"datum.p == 'B'"}],"mark":{"type":"text","angle":270,"align":"left","baseline":"middle","dx":3,"fontSize":10,"color":"#111"},"encoding":{"text":{"field":"label"}}},
{"data":{"name":"titles"},"transform":[{"filter":"datum.p == 'B'"}],"mark":{"type":"text","align":"left","baseline":"top","dx":5,"dy":3,"fontSize":15,"color":"#111"},"encoding":{"text":{"field":"label"}}}
]}
]},
{"spacing":25,"vconcat":[
{"width":609,"height":257,
"encoding":{
"x":{"field":"t","type":"quantitative","scale":{"domain":[0,65.1],"nice":false,"zero":false},"axis":{"title":"Minutes","titlePadding":3,"values":[0,1,2,3,4,5,6,7,8,9,10,11,12,13,14,15,16,17,18,19,20,21,22,23,24,25,26,27,28,29,30,31,32,33,34,35,36,37,38,39,40,41,42,43,44,45,46,47,48,49,50,51,52,53,54,55,56,57,58,59,60,61,62,63,64,65],"labelExpr":"datum.value % 5 === 0 ? format(datum.value, '.2f') : ''","tickSize":{"condition":{"test":"datum.value % 5 === 0","value":5},"value":3}}},
"y":{"field":"v","type":"quantitative","scale":{"domain":[-0.02,0.369],"nice":false,"zero":false},"axis":{"title":"AU","titlePadding":2.5,"values":[-0.01,0,0.01,0.02,0.03,0.04,0.05,0.06,0.07,0.08,0.09,0.1,0.11,0.12,0.13,0.14,0.15,0.16,0.17,0.18,0.19,0.2,0.21,0.22,0.23,0.24,0.25,0.26,0.27,0.28,0.29,0.3,0.31,0.32,0.33,0.34,0.35,0.36],"labelExpr":"abs(datum.value*20-round(datum.value*20))<0.001 ? format(datum.value,'.2f') : ''","tickSize":{"condition":{"test":"abs(datum.value*20-round(datum.value*20))<0.001","value":5},"value":3}}}},
"layer":[
{"data":{"name":"C"},"mark":{"type":"line","strokeWidth":1,"clip":true},"encoding":{"color":{"field":"s","type":"nominal","scale":{"domain":["g","b","r"],"range":["#2ed02e","#3636d0","#e83a3a"]},"legend":null}}},
{"data":{"name":"peaks"},"transform":[{"filter":"datum.p == 'C'"}],"mark":{"type":"text","angle":270,"align":"left","baseline":"middle","dx":3,"fontSize":10,"color":"#111"},"encoding":{"text":{"field":"label"}}},
{"data":{"name":"titles"},"transform":[{"filter":"datum.p == 'C'"}],"mark":{"type":"text","align":"left","baseline":"top","dx":5,"dy":3,"fontSize":15,"color":"#111"},"encoding":{"text":{"field":"label"}}}
]},
{"width":609,"height":244,
"encoding":{
"x":{"field":"t","type":"quantitative","scale":{"domain":[0,65.1],"nice":false,"zero":false},"axis":{"title":"Minutes","titlePadding":3,"values":[0,1,2,3,4,5,6,7,8,9,10,11,12,13,14,15,16,17,18,19,20,21,22,23,24,25,26,27,28,29,30,31,32,33,34,35,36,37,38,39,40,41,42,43,44,45,46,47,48,49,50,51,52,53,54,55,56,57,58,59,60,61,62,63,64,65],"labelExpr":"datum.value % 5 === 0 ? format(datum.value, '.2f') : ''","tickSize":{"condition":{"test":"datum.value % 5 === 0","value":5},"value":3}}},
"y":{"field":"v","type":"quantitative","scale":{"domain":[-0.05,0.963],"nice":false,"zero":false},"axis":{"title":"AU","titlePadding":2.5,"values":[-0.04,-0.02,0,0.02,0.04,0.06,0.08,0.1,0.12,0.14,0.16,0.18,0.2,0.22,0.24,0.26,0.28,0.3,0.32,0.34,0.36,0.38,0.4,0.42,0.44,0.46,0.48,0.5,0.52,0.54,0.56,0.58,0.6,0.62,0.64,0.66,0.68,0.7,0.72,0.74,0.76,0.78,0.8,0.82,0.84,0.86,0.88,0.9,0.92,0.94,0.96],"labelExpr":"abs(datum.value*10-round(datum.value*10))<0.001 ? format(datum.value,'.2f') : ''","tickSize":{"condition":{"test":"abs(datum.value*10-round(datum.value*10))<0.001","value":5},"value":3}}}},
"layer":[
{"data":{"name":"D"},"mark":{"type":"line","strokeWidth":1,"clip":true},"encoding":{"color":{"field":"s","type":"nominal","scale":{"domain":["g","b","r"],"range":["#2ed02e","#3636d0","#e83a3a"]},"legend":null}}},
{"data":{"name":"peaks"},"transform":[{"filter":"datum.p == 'D'"}],"mark":{"type":"text","angle":270,"align":"left","baseline":"middle","dx":3,"fontSize":10,"color":"#111"},"encoding":{"text":{"field":"label"}}},
{"data":{"name":"titles"},"transform":[{"filter":"datum.p == 'D'"}],"mark":{"type":"text","align":"left","baseline":"top","dx":5,"dy":3,"fontSize":15,"color":"#111"},"encoding":{"text":{"field":"label"}}}
]}
]}
]
}
